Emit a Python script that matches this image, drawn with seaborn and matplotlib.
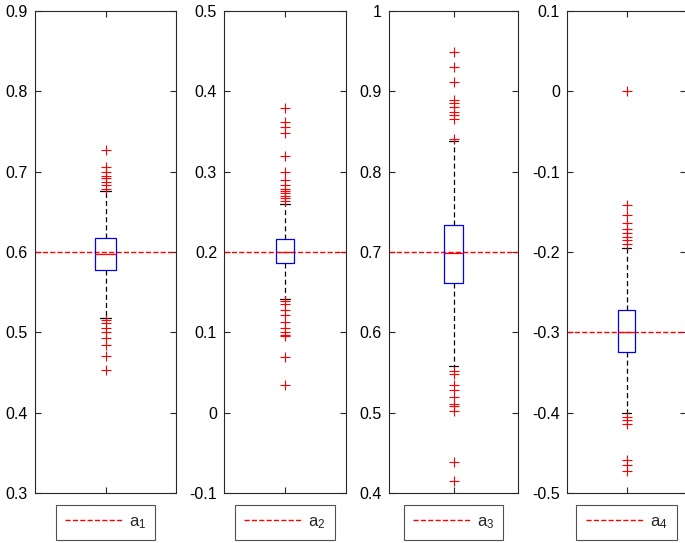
import numpy as np
import pandas as pd
import matplotlib
matplotlib.use("Agg")
import matplotlib.pyplot as plt
import seaborn as sns
from matplotlib.ticker import FuncFormatter, MultipleLocator

# ---------------- data ----------------
params = ["a1", "a2", "a3", "a4"]
legend_labels = ["a$_1$", "a$_2$", "a$_3$", "a$_4$"]
true_values = [0.6, 0.2, 0.7, -0.3]
y_limits = [(0.3, 0.9), (-0.1, 0.5), (0.4, 1.0), (-0.5, 0.1)]

q1 = [0.577, 0.186, 0.662, -0.324]
median = [0.598, 0.200, 0.699, -0.300]
q3 = [0.617, 0.216, 0.733, -0.272]
whisker_low = [0.518, 0.142, 0.558, -0.401]
whisker_high = [0.676, 0.260, 0.838, -0.195]

outliers_low = [
    [0.453, 0.470, 0.484, 0.493, 0.500, 0.506, 0.511, 0.515],
    [0.035, 0.069, 0.095, 0.097, 0.100, 0.105, 0.113, 0.121, 0.128, 0.135, 0.139],
    [0.415, 0.438, 0.502, 0.508, 0.511, 0.520, 0.528, 0.535, 0.548, 0.552],
    [-0.472, -0.465, -0.459, -0.414, -0.409, -0.405],
]
outliers_high = [
    [0.679, 0.683, 0.687, 0.692, 0.695, 0.700, 0.706, 0.727],
    [0.264, 0.267, 0.270, 0.273, 0.276, 0.279, 0.283, 0.290, 0.300, 0.319,
     0.348, 0.355, 0.362, 0.379],
    [0.841, 0.865, 0.870, 0.874, 0.880, 0.886, 0.889, 0.911, 0.930, 0.949],
    [-0.190, -0.185, -0.181, -0.176, -0.171, -0.164, -0.154, -0.141, 0.000],
]

# weight of the quartile / median values so the quantiles land on them
core_weight = 40

rows = []
for i, p in enumerate(params):
    vals = (outliers_low[i] + [whisker_low[i]] + [q1[i]] * core_weight
            + [median[i]] * core_weight + [q3[i]] * core_weight
            + [whisker_high[i]] + outliers_high[i])
    rows += [(p, v) for v in vals]
df = pd.DataFrame(rows, columns=["param", "value"])

# ---------------- style ----------------
sns.set_style("white")
plt.rcParams["font.family"] = ["Liberation Sans", "DejaVu Sans"]
plt.rcParams["mathtext.fontset"] = "custom"
plt.rcParams["mathtext.rm"] = "Liberation Sans"
plt.rcParams["mathtext.it"] = "Liberation Sans:italic"
plt.rcParams["axes.unicode_minus"] = False

W, H = 685, 543
fig = plt.figure(figsize=(W / 100, H / 100), dpi=100)

axes_px = [(35, 176), (224, 346), (389, 518), (567, 686)]
top_px, bottom_px = 11, 493
frame_color = "#262626"


def fmt(v, pos):
    if abs(v) < 1e-9:
        return "0"
    return f"{round(v, 6):g}"


for i, p in enumerate(params):
    x0, x1 = axes_px[i]
    ax = fig.add_axes([x0 / W, (H - bottom_px) / H, (x1 - x0) / W,
                       (bottom_px - top_px) / H])
    sub = df[df["param"] == p]
    ax.axhline(true_values[i], color="red", linestyle="--", linewidth=1.0,
               label=legend_labels[i], zorder=1)
    sns.boxplot(
        data=sub, y="value", ax=ax, width=0.15, fill=False, whis=1.5,
        linewidth=0.9, fliersize=7,
        boxprops=dict(color="blue"),
        medianprops=dict(color="red"),
        whiskerprops=dict(color="black", linestyle=(0, (4, 2.5))),
        capprops=dict(color="black"),
        flierprops=dict(marker="+", markeredgecolor="red", markersize=7,
                        markeredgewidth=0.8),
    )
    ax.set_xlim(-0.5, 0.5)
    ax.set_ylim(*y_limits[i])
    ax.yaxis.set_major_locator(MultipleLocator(0.1))
    ax.yaxis.set_major_formatter(FuncFormatter(fmt))
    ax.set_xticks([0])
    ax.set_xticklabels([])
    ax.set_xlabel("")
    ax.set_ylabel("")
    ax.tick_params(direction="in", top=True, right=True, left=True, bottom=True,
                   length=4, width=0.8, color=frame_color, labelsize=11.5,
                   labelcolor="black", pad=5)
    for s in ax.spines.values():
        s.set_visible(True)
        s.set_color(frame_color)
        s.set_linewidth(0.8)
    leg = ax.legend(loc="upper center", bbox_to_anchor=(0.5, -12 / 482),
                    borderaxespad=0, frameon=True, fancybox=False,
                    edgecolor=frame_color, handlelength=3.5,
                    handletextpad=0.35, fontsize=12, borderpad=0.55)
    leg.get_frame().set_linewidth(0.8)

fig.savefig("out.png", dpi=100)
